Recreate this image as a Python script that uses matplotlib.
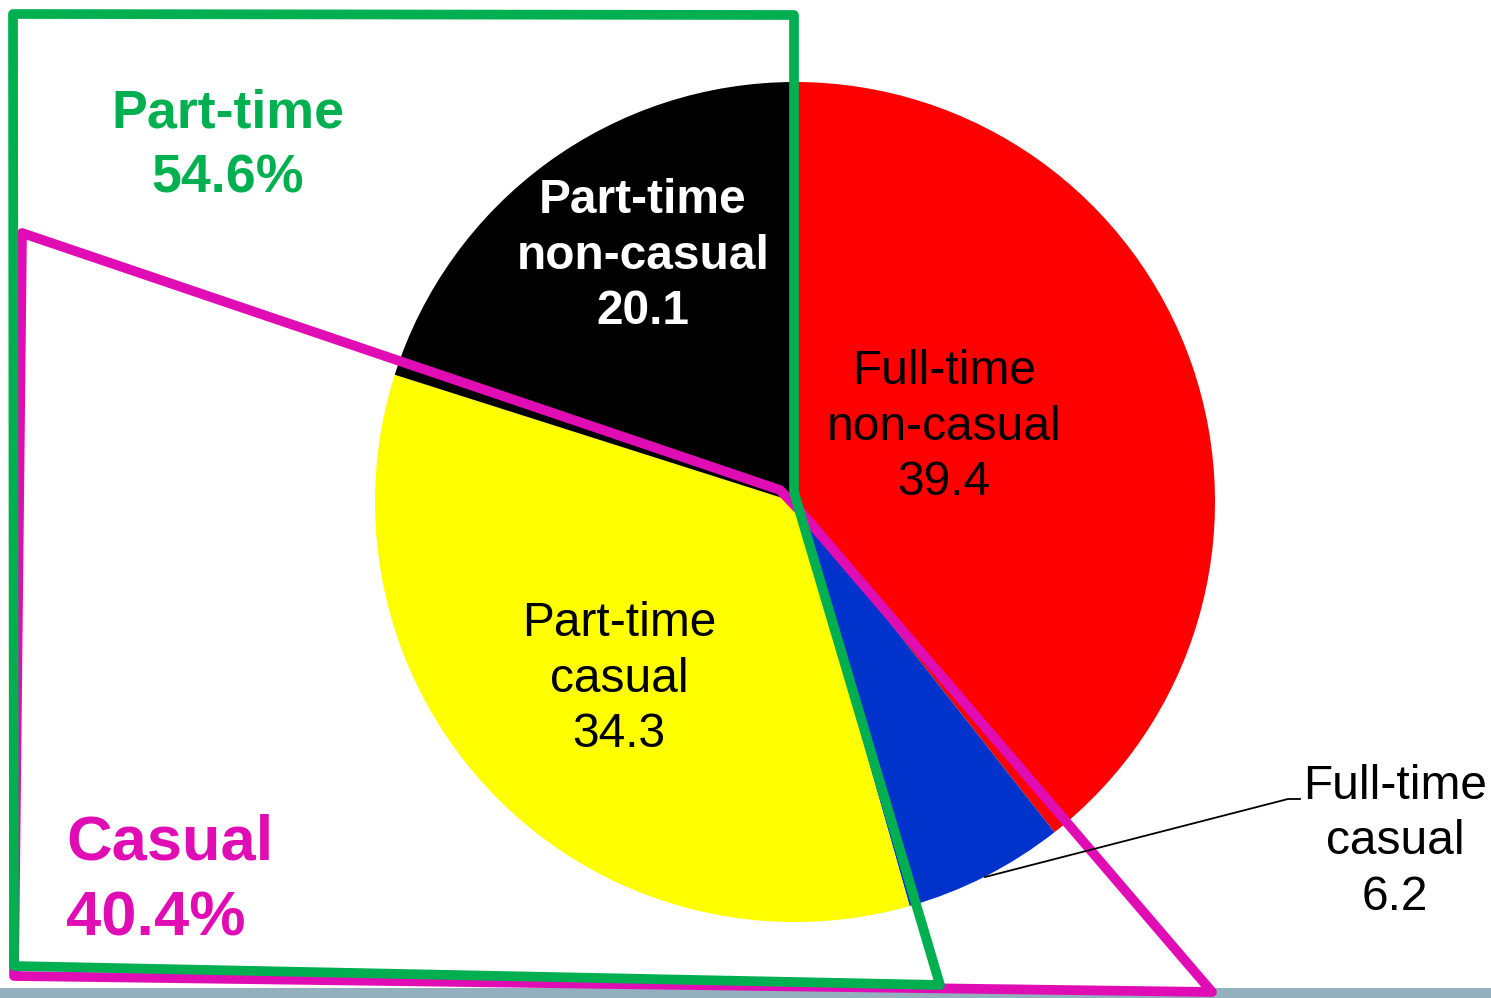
import matplotlib
matplotlib.use("Agg")
import matplotlib.pyplot as plt
from matplotlib.patches import Polygon, Rectangle
from matplotlib.lines import Line2D

plt.rcParams.update({"font.family": ["Liberation Sans", "DejaVu Sans"]})

# data
labels = ["Full-time\nnon-casual", "Full-time\ncasual", "Part-time\ncasual", "Part-time\nnon-casual"]
values = [39.4, 6.2, 34.3, 20.1]
colors = ["#FF0000", "#0033CC", "#FFFF00", "#000000"]
group_labels = ["Part-time", "Casual"]
group_values = ["54.6%", "40.4%"]

W, H = 1491, 998
GREEN, MAG = "#00B050", "#E00CB4"


def P(x, y):
    # pixel (y down) -> data (y up)
    return (x, H - y)


fig = plt.figure(figsize=(W / 100, H / 100), dpi=100)
ax = fig.add_axes([0, 0, 1, 1])

ax.pie(values, colors=colors, startangle=90, counterclock=False,
       center=P(795, 502), radius=420, wedgeprops=dict(linewidth=0), frame=False)
ax.set_xlim(0, W); ax.set_ylim(0, H); ax.set_aspect("auto"); ax.axis("off")

# pie labels
lab_pos = [(944, 427), (1395, 842), (619, 679), (643, 256)]
txt_col = ["black", "black", "black", "white"]
weights = ["normal", "normal", "normal", "bold"]
for lab, v, (x, y), c, w in zip(labels, values, lab_pos, txt_col, weights):
    ax.text(*P(x, y), f"{lab}\n{v:.1f}", ha="center", va="center", fontsize=34.5,
            color=c, fontweight=w, linespacing=1.3, zorder=10)

# leader line for the small slice
ax.add_line(Line2D([985, 1288, 1300], [H - 877, H - 799, H - 799], color="black", lw=1.3, zorder=6))

# bottom strip
ax.add_patch(Rectangle(P(0, 998), W, 10, fc="#94AFBE", ec="none", zorder=1))

# group outlines
mag = [P(22, 233), P(780, 490), P(801, 512), P(1212, 992), P(14, 976)]
grn = [P(13, 14), P(794, 15), P(794, 492), P(801, 516), P(940, 985), P(14, 966)]
ax.add_patch(Polygon(mag, closed=True, fill=False, ec=MAG, lw=7, joinstyle="round", zorder=4))
ax.add_patch(Polygon(grn, closed=True, fill=False, ec=GREEN, lw=7, joinstyle="round", zorder=5))

ax.text(*P(228, 146), f"{group_labels[0]}\n{group_values[0]}", ha="center", va="center",
        fontsize=38.7, fontweight="bold", color=GREEN, linespacing=1.37, zorder=10)
ax.text(*P(66, 881), f"{group_labels[1]}\n{group_values[1]}", ha="left", va="center",
        fontsize=45.5, fontweight="bold", color=MAG, linespacing=1.35, zorder=10)

fig.savefig("out.png", dpi=100)
